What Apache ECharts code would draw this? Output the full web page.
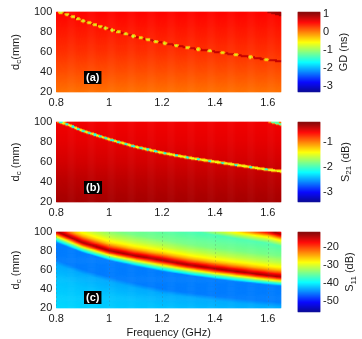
<!DOCTYPE html>
<html><head><meta charset="utf-8">
<script src="https://cdn.jsdelivr.net/npm/echarts@6/dist/echarts.min.js"></script>
<style>html,body{margin:0;padding:0;background:#fff}#c{width:362px;height:339px}</style>
</head><body><div id="c"></div><script>
// ---------------- data ----------------
const freqTicks = [0.8, 1, 1.2, 1.4, 1.6];
const dcTicks = [20, 40, 60, 80, 100];
const gdTicks = [-3, -2, -1, 0, 1];
const s21Ticks = [-3, -2, -1];
const s11Ticks = [-50, -40, -30, -20];
const panelLabels = ['(a)', '(b)', '(c)'];
const barNames = ['GD (ns)', '{t|S}{s|21}{t| (dB)}', '{t|S}{s|11}{t| (dB)}'];
const barRanges = [[-3.35, 1.1], [-3.4, -0.2], [-56, -11.5]];

// resonance line (centre) in (a) and (b)
const resFreq = [0.80, 0.85, 0.90, 1.00, 1.10, 1.20, 1.30, 1.40, 1.50, 1.60, 1.65];
const resDc   = [101.5, 97, 91.5, 83, 75.5, 69.5, 64.5, 60.5, 56.5, 52.5, 51];
// bright dots sitting on that line
const dotFreq = [0.818, 0.842, 0.864, 0.884, 0.904, 0.926, 0.947, 0.968, 0.988, 1.013, 1.037,
                 1.064, 1.092, 1.121, 1.148, 1.178, 1.212, 1.255, 1.298, 1.338, 1.382, 1.430,
                 1.481, 1.536, 1.596];
// next mode entering at the top-right corner
const mode2Freq = [1.20, 1.30, 1.40, 1.50, 1.60, 1.65];
const mode2Dc   = [120, 115, 110, 105.5, 101.5, 98];

// (a) group delay background vs d_c, line / dot levels
const gdBgDc  = [20, 40, 60, 80, 100];
const gdBgVal = [0.05, 0.2, 0.33, 0.43, 0.52];
const gdLevels = { line: 0.8, dotEdge: -0.3, dotCore: -0.85, mode2: 0.95 };

// (b) S21 background vs d_c, line / dot levels
const s21BgDc  = [20, 40, 60, 80, 100];
const s21BgVal = [-0.32, -0.38, -0.46, -0.52, -0.56];
const s21Levels = { lineCore: -1.45, lineEdge: -1.0, dot: -2.1, mode2: -1.9 };

// (c) S11: reflection peak and dip centres
const s11Freq   = [0.80, 0.90, 1.00, 1.10, 1.20, 1.30, 1.40, 1.50, 1.60, 1.65];
const s11PeakDc = [101, 89, 80.5, 75, 70.5, 65.5, 61.5, 58, 54.5, 53];
const s11DipDc  = [82, 72, 64, 57.5, 51.5, 47.5, 44, 41, 38.5, 37.5];
// cross-section values read at f = 1.0 GHz
const s11AboveOff = [0, 2, 4, 7, 10, 15, 22, 35];
const s11AboveVal = [-13, -16, -20, -25, -28, -31, -34, -36];
const s11BetweenFrac = [0, 0.17, 0.275, 0.375, 0.54, 0.72, 0.85, 1.0];
const s11BetweenVal  = [-13, -22, -28, -34, -41, -51, -54.5, -55.5];
const s11BelowOff = [0, 3, 6, 10, 16, 30, 60];
const s11BelowVal = [-55.5, -53, -49, -45.5, -43, -42, -41];
const s11Mode2Off = [0, 3, 6, 9, 13, 20];
const s11Mode2Val = [-13, -20, -27, -31, -36, -45];

// ---------------- helpers ----------------
const NC = 236, NR = 80, NB = 160;
const fMin = 0.8, fMax = 1.65, dMin = 20, dMax = 100;
function lerp(xs, ys, x, extrap) {
  const n = xs.length;
  if (x <= xs[0]) {
    if (!extrap) return ys[0];
    return ys[0] + (x - xs[0]) * (ys[1] - ys[0]) / (xs[1] - xs[0]);
  }
  if (x >= xs[n - 1]) {
    if (!extrap) return ys[n - 1];
    return ys[n - 1] + (x - xs[n - 1]) * (ys[n - 1] - ys[n - 2]) / (xs[n - 1] - xs[n - 2]);
  }
  for (let k = 1; k < n; k++) if (x <= xs[k]) {
    const t = (x - xs[k - 1]) / (xs[k] - xs[k - 1]);
    return ys[k - 1] + t * (ys[k] - ys[k - 1]);
  }
}
const dotDc = dotFreq.map(f => lerp(resFreq, resDc, f, true));
function dotR(f, d) {
  let best = 1e9;
  for (let k = 0; k < dotFreq.length; k++) {
    const dx = (f - dotFreq[k]) / 0.0095, dy = (d - dotDc[k]) / 1.7;
    const r = dx * dx + dy * dy;
    if (r < best) best = r;
  }
  return Math.sqrt(best);
}
function clamp(v, r) { return Math.max(r[0] + 1e-6, Math.min(r[1] - 1e-6, v)); }

function gdValue(f, d) {
  let v = lerp(gdBgDc, gdBgVal, d);
  const s = d - lerp(resFreq, resDc, f, true);
  const s2 = d - lerp(mode2Freq, mode2Dc, f, true);
  if (Math.abs(s2) < 2) v = gdLevels.mode2;
  if (Math.abs(s) < 1.1) v = gdLevels.line;
  const r = dotR(f, d);
  if (r < 1) v = r < 0.45 ? gdLevels.dotCore : gdLevels.dotEdge;
  return v;
}
function s21Value(f, d) {
  let v = lerp(s21BgDc, s21BgVal, d);
  const s = d - lerp(resFreq, resDc, f, true);
  const s2 = d - lerp(mode2Freq, mode2Dc, f, true);
  if (Math.abs(s2) < 1.8) v = Math.abs(s2) < 1.1 ? s21Levels.mode2 : s21Levels.lineEdge;
  if (Math.abs(s) < 1.6) v = Math.abs(s) < 0.9 ? s21Levels.lineCore : s21Levels.lineEdge;
  const r = dotR(f, d);
  if (r < 0.7) v = s21Levels.dot;
  return v;
}
function s11Value(f, d) {
  const pk = lerp(s11Freq, s11PeakDc, f, true);
  const dp = lerp(s11Freq, s11DipDc, f, true);
  let v;
  if (d >= pk) v = lerp(s11AboveOff, s11AboveVal, d - pk);
  else if (d >= dp) v = lerp(s11BetweenFrac, s11BetweenVal, (pk - d) / (pk - dp));
  else v = lerp(s11BelowOff, s11BelowVal, dp - d);
  const s2 = Math.abs(d - lerp(mode2Freq, mode2Dc, f, true));
  v = Math.max(v, lerp(s11Mode2Off, s11Mode2Val, s2));
  return v;
}
const fns = [gdValue, s21Value, s11Value];
const panels = fns.map((fn, p) => {
  const out = [];
  for (let i = 0; i < NC; i++) {
    const f = fMin + (i + 0.5) * (fMax - fMin) / NC;
    for (let j = 0; j < NR; j++) {
      const d = dMin + (j + 0.5) * (dMax - dMin) / NR;
      out.push([i, j, clamp(fn(f, d), barRanges[p])]);
    }
  }
  return out;
});
const bars = barRanges.map(r => {
  const out = [];
  for (let j = 0; j < NB; j++) out.push([0, j, r[0] + (j + 0.5) / NB * (r[1] - r[0])]);
  return out;
});

// ---------------- chart ----------------
const font = '"Liberation Sans", Arial, sans-serif';
const txt = '#1a1a1a';
const jet = ['#00008F', '#0000FF', '#0080FF', '#00FFFF', '#80FF80', '#FFFF00', '#FF8000', '#FF0000', '#800000'];
const tops = [12, 122, 232];
const H = 80;
const idx = n => Array.from({ length: n }, (_, k) => k);
const rich = {
  t: { fontSize: 11, fontFamily: font, color: txt, lineHeight: 15 },
  s: { fontSize: 8, fontFamily: font, color: txt, lineHeight: 8, padding: [7, 0, 0, 0] }
};

const grid = [], xAxis = [], yAxis = [], series = [], visualMap = [], title = [];
tops.forEach((top, p) => {
  grid.push({ left: 45, width: 236, top: top, height: H });
  xAxis.push({ type: 'category', gridIndex: p, data: idx(NC), show: false, position: 'top' });
  xAxis.push({
    type: 'value', gridIndex: p, min: fMin, max: fMax, interval: 0.2, position: 'bottom', z: 5,
    axisLine: { show: false }, axisTick: { show: false, customValues: freqTicks },
    axisLabel: { customValues: freqTicks, margin: 5, fontSize: 11, fontFamily: font, color: txt,
      formatter: v => String(+v.toFixed(2)) },
    splitLine: { show: p === 2, lineStyle: { color: 'rgba(90,90,90,0.2)', type: [2, 2], width: 1 } },
    name: p === 2 ? 'Frequency (GHz)' : '', nameLocation: 'middle', nameGap: 19,
    nameTextStyle: { fontSize: 11, fontFamily: font, color: txt }
  });
  yAxis.push({ type: 'category', gridIndex: p, data: idx(NR), show: false, position: 'right' });
  yAxis.push({
    type: 'value', gridIndex: p, min: dMin, max: dMax, interval: 20, position: 'left',
    axisLine: { show: false }, axisTick: { show: false },
    axisLabel: { customValues: dcTicks, margin: 4, fontSize: 11, fontFamily: font, color: txt },
    splitLine: { show: false },
    name: p === 0 ? '{t|d}{s|c}{t|(mm)}' : '{t|d}{s|c}{t| (mm)}',
    nameLocation: 'middle', nameRotate: 90, nameGap: 33,
    nameTextStyle: { rich: rich }
  });
  series.push({
    type: 'heatmap', xAxisIndex: 2 * p, yAxisIndex: 2 * p, data: panels[p],
    progressive: 0, progressiveThreshold: 1e9, itemStyle: { borderWidth: 0 }, emphasis: { disabled: true }
  });
  title.push({
    text: panelLabels[p], left: 84, top: top + 59, padding: [1, 2], backgroundColor: '#000',
    textStyle: { color: '#fff', fontWeight: 'bold', fontSize: 11, lineHeight: 11, fontFamily: font }
  });
});
tops.forEach((top, q) => {
  const g = 3 + q;
  grid.push({ left: 298, width: 22, top: top, height: H });
  xAxis.push({ type: 'category', gridIndex: g, data: [0], show: false });
  yAxis.push({ type: 'category', gridIndex: g, data: idx(NB), show: false, position: 'left' });
  const ticks = [gdTicks, s21Ticks, s11Ticks][q];
  yAxis.push({
    type: 'value', gridIndex: g, min: barRanges[q][0], max: barRanges[q][1], position: 'right',
    axisLine: { show: false }, axisTick: { show: false, customValues: ticks },
    axisLabel: { customValues: ticks, margin: 3, fontSize: 11, fontFamily: font, color: txt },
    splitLine: { show: false },
    name: barNames[q], nameLocation: 'middle', nameRotate: 90, nameGap: 18,
    nameTextStyle: { fontSize: 11, fontFamily: font, color: txt, rich: rich }
  });
  series.push({
    type: 'heatmap', xAxisIndex: 6 + q, yAxisIndex: 6 + 2 * q, data: bars[q],
    progressive: 0, progressiveThreshold: 1e9, itemStyle: { borderWidth: 0 }, emphasis: { disabled: true }
  });
  visualMap.push({
    type: 'continuous', show: false, min: barRanges[q][0], max: barRanges[q][1],
    seriesIndex: [q, 3 + q], inRange: { color: jet }
  });
});

const chart = echarts.init(document.getElementById('c'), null, { renderer: 'canvas' });
chart.setOption({ animation: false, backgroundColor: '#fff', grid, xAxis, yAxis, series, visualMap, title });
</script></body></html>
